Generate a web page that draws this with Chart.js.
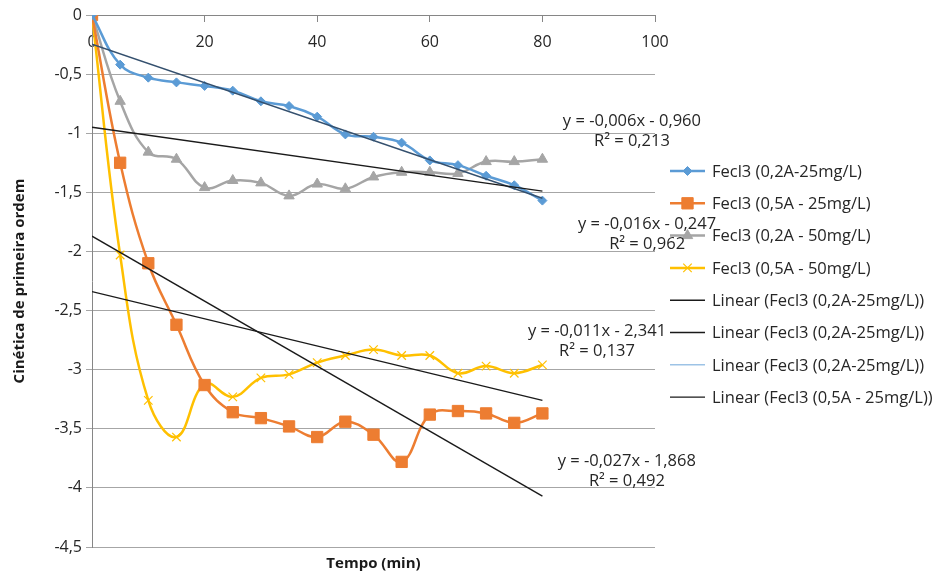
<!DOCTYPE html>
<html>
<head>
<meta charset="utf-8">
<script src="https://cdn.jsdelivr.net/npm/chart.js@4.4.0/dist/chart.umd.min.js"></script>
<style>
html,body{margin:0;padding:0;background:#fff;}
</style>
</head>
<body>
<canvas id="grafico" width="939" height="576"></canvas>
<script>
// tempo (min)
var tempo = [0,5,10,15,20,25,30,35,40,45,50,55,60,65,70,75,80];

var fecl3_02A_25 = [0,-0.42,-0.53,-0.57,-0.60,-0.64,-0.73,-0.77,-0.86,-1.01,-1.03,-1.08,-1.23,-1.27,-1.36,-1.44,-1.57];
var fecl3_05A_25 = [0,-1.25,-2.10,-2.62,-3.13,-3.36,-3.41,-3.48,-3.57,-3.44,-3.55,-3.78,-3.38,-3.35,-3.37,-3.45,-3.37];
var fecl3_02A_50 = [0,-0.73,-1.16,-1.22,-1.46,-1.40,-1.42,-1.53,-1.43,-1.47,-1.37,-1.33,-1.33,-1.34,-1.24,-1.24,-1.22];
var fecl3_05A_50 = [0,-2.03,-3.26,-3.57,-3.12,-3.23,-3.07,-3.04,-2.94,-2.88,-2.83,-2.88,-2.88,-3.03,-2.97,-3.03,-2.96];

// linhas de tendencia (inicio e fim)
var tendX = [0,80];
var tendA = [-0.95,-1.49];   // y = -0,006x - 0,960
var tendB = [-2.34,-3.26];   // y = -0,011x - 2,341
var tendC = [-0.247,-1.55];  // y = -0,016x - 0,247
var tendD = [-1.87,-4.07];   // y = -0,027x - 1,868

var yTicks = [0,-0.5,-1,-1.5,-2,-2.5,-3,-3.5,-4,-4.5];
var xTicks = [0,20,40,60,80,100];

var equacoes = [
    {x:95.9, y:-0.897, t:['y = -0,006x - 0,960','R\u00B2 = 0,213']},
    {x:98.6, y:-1.768, t:['y = -0,016x - 0,247','R\u00B2 = 0,962']},
    {x:89.7, y:-2.673, t:['y = -0,011x - 2,341','R\u00B2 = 0,137']},
    {x:95.0, y:-3.773, t:['y = -0,027x - 1,868','R\u00B2 = 0,492']}
];

var FONTE = '"Open Sans"';

var pts = function(ys, xs){
    var out = [];
    for(var i=0;i<ys.length;i++){ out.push({x:xs[i], y:ys[i]}); }
    return out;
};

var serie = function(label, ys, cor, estilo, raio){
    return {
        label: label, data: pts(ys, tempo),
        borderColor: cor, backgroundColor: cor,
        borderWidth: 2.5, tension: 0.4,
        pointStyle: estilo, pointRadius: raio, pointHoverRadius: raio,
        pointBorderColor: cor, pointBackgroundColor: cor, pointBorderWidth: estilo == 'crossRot' ? 1.2 : 1,
        order: 1
    };
};

var tendencia = function(label, ys, cor, corLegenda){
    return {
        label: label, data: pts(ys, tendX),
        borderColor: cor, backgroundColor: cor, legendColor: corLegenda,
        borderWidth: 1.4, pointRadius: 0, tension: 0, order: 0
    };
};

var legendaPlugin = {
    id: 'legenda',
    afterDraw: function(chart){
        var ctx = chart.ctx;
        ctx.save();
        ctx.font = '16.5px ' + FONTE;
        ctx.textBaseline = 'middle';
        ctx.textAlign = 'left';
        chart.data.datasets.forEach(function(ds, i){
            var y = 171 + i*32.3;
            var cor = ds.legendColor || ds.borderColor;
            ctx.strokeStyle = cor;
            ctx.lineWidth = ds.pointRadius ? 2.5 : 1.4;
            ctx.beginPath(); ctx.moveTo(670, y); ctx.lineTo(705, y); ctx.stroke();
            if(ds.pointRadius){
                ctx.fillStyle = cor;
                ctx.lineWidth = ds.pointBorderWidth;
                Chart.helpers.drawPoint(ctx, {pointStyle: ds.pointStyle, radius: ds.pointRadius, borderWidth: ds.pointBorderWidth, rotation: 0}, 687.5, y);
            }
            ctx.fillStyle = '#262626';
            ctx.fillText(ds.label, 712, y + 1);
        });
        ctx.restore();
    }
};

var equacaoPlugin = {
    id: 'equacoes',
    afterDraw: function(chart){
        var ctx = chart.ctx, sx = chart.scales.x, sy = chart.scales.y;
        ctx.save();
        ctx.font = '16.5px ' + FONTE;
        ctx.fillStyle = '#262626';
        ctx.textAlign = 'center';
        ctx.textBaseline = 'middle';
        equacoes.forEach(function(e){
            var px = sx.getPixelForValue(e.x), py = sy.getPixelForValue(e.y);
            ctx.fillText(e.t[0], px, py);
            ctx.fillText(e.t[1], px, py + 20.5);
        });
        ctx.restore();
    }
};

var virgula = function(v){ return String(v).replace('.', ','); };

new Chart(document.getElementById('grafico').getContext('2d'), {
    type: 'line',
    data: {
        datasets: [
            serie('Fecl3 (0,2A-25mg/L)', fecl3_02A_25, '#5b9bd5', 'rectRot', 4.5),
            serie('Fecl3 (0,5A - 25mg/L)', fecl3_05A_25, '#ed7d31', 'rect', 8),
            serie('Fecl3 (0,2A - 50mg/L)', fecl3_02A_50, '#a5a5a5', 'triangle', 6),
            serie('Fecl3 (0,5A - 50mg/L)', fecl3_05A_50, '#ffc000', 'crossRot', 6),
            tendencia('Linear (Fecl3 (0,2A-25mg/L))', tendA, '#1a1a1a'),
            tendencia('Linear (Fecl3 (0,2A-25mg/L))', tendB, '#1a1a1a'),
            tendencia('Linear (Fecl3 (0,2A-25mg/L))', tendC, '#34506e', '#9dc3e6'),
            tendencia('Linear (Fecl3 (0,5A - 25mg/L))', tendD, '#1a1a1a')
        ]
    },
    options: {
        responsive: false,
        animation: false,
        events: [],
        layout: { padding: { top: 15, right: 284, left: 0, bottom: 0 } },
        plugins: { legend: { display: false }, tooltip: { enabled: false } },
        scales: {
            x: {
                type: 'linear', position: 'bottom', min: 0, max: 100,
                ticks: { display: false },
                grid: { display: false },
                border: { display: false },
                title: { display: true, text: 'Tempo (min)', color: '#1a1a1a',
                         font: { family: FONTE, size: 15, weight: 'bold' }, padding: { top: 0, bottom: 3 } },
                afterFit: function(s){ s.height = 29; }
            },
            xTopo: {
                type: 'linear', axis: 'x', position: { y: 0 }, min: 0, max: 100,
                afterBuildTicks: function(s){ s.ticks = xTicks.map(function(v){ return {value: v}; }); },
                ticks: { color: '#262626', padding: 12, font: { family: FONTE, size: 16 }, maxRotation: 0 },
                grid: { drawOnChartArea: false, tickLength: 6, color: '#868686' },
                border: { display: true, color: '#868686' }
            },
            y: {
                min: -4.5, max: 0,
                afterBuildTicks: function(s){ s.ticks = yTicks.map(function(v){ return {value: v}; }); },
                ticks: { color: '#262626', padding: 4, font: { family: FONTE, size: 16 }, callback: virgula },
                grid: { color: '#a6a6a6', tickLength: 6 },
                border: { display: true, color: '#868686' },
                title: { display: true, text: 'Cinética de primeira ordem', color: '#1a1a1a',
                         font: { family: FONTE, size: 15, weight: 'bold' }, padding: { top: 11, bottom: 4 } },
                afterFit: function(s){ s.width = 92; }
            }
        }
    },
    plugins: [legendaPlugin, equacaoPlugin]
});
</script>
</body>
</html>
